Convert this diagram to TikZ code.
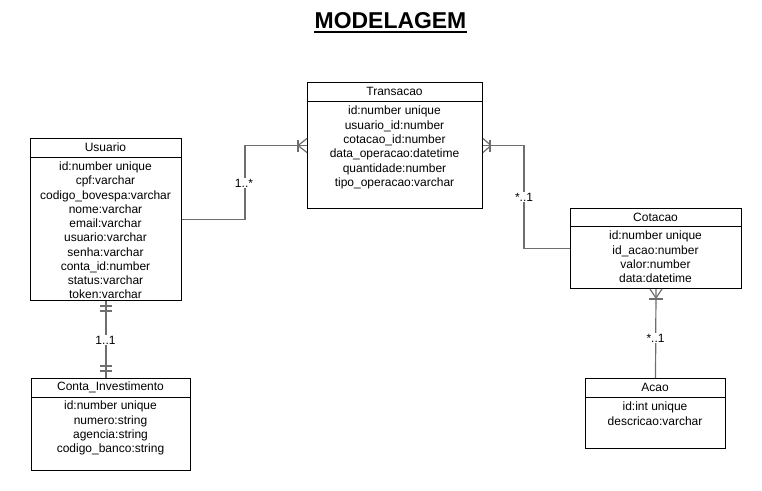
\documentclass[tikz,border=0pt]{standalone}
\usepackage{fontspec}
\setmainfont{Liberation Sans}
\definecolor{conncol}{RGB}{110,110,110}
\begin{document}
\begin{tikzpicture}[x=0.75pt,y=-0.75pt,
  ent/.style={draw=black,line width=0.75pt,anchor=north west,inner sep=0pt,rectangle},
  etitle/.style={inner sep=0pt,font=\fontsize{9pt}{10.7pt}\selectfont},
  attrs/.style={inner sep=0pt,anchor=north,align=center,font=\fontsize{9pt}{10.7pt}\selectfont},
  conn/.style={draw=conncol,line width=0.9pt},
  mult/.style={fill=white,inner sep=1pt,font=\fontsize{9pt}{10.7pt}\selectfont}
]
\useasboundingbox (0,0) rectangle (762,490);

% title
\node[inner sep=0pt,anchor=base,font=\fontsize{17.2pt}{18pt}\selectfont\bfseries] (title) at (390.5,28.5) {MODELAGEM};
\draw[line width=1.3pt] ([yshift=-2.6pt]title.base west) -- ([yshift=-2.6pt]title.base east);

% Usuario
\node[ent,minimum width=113.25pt,minimum height=121.5pt] (usuario) at (30,138) {};
\draw[line width=0.75pt] (30,157) -- (181,157);
\node[etitle] (usuarioT) at (105.5,147.5) {Usuario};
\node[attrs] (usuarioA) at (105.5,161.5) {id:number unique\\cpf:varchar\\codigo\_bovespa:varchar\\nome:varchar\\email:varchar\\usuario:varchar\\senha:varchar\\conta\_id:number\\status:varchar\\token:varchar};

% Transacao
\node[ent,minimum width=131.25pt,minimum height=94.5pt] (transacao) at (307,82) {};
\draw[line width=0.75pt] (307,101) -- (482,101);
\node[etitle] (transacaoT) at (394.5,91.5) {Transacao};
\node[attrs] (transacaoA) at (394.5,106) {id:number unique\\usuario\_id:number\\cotacao\_id:number\\data\_operacao:datetime\\quantidade:number\\tipo\_operacao:varchar};

% Cotacao
\node[ent,minimum width=128.25pt,minimum height=60pt] (cotacao) at (570,208) {};
\draw[line width=0.75pt] (570,226) -- (741,226);
\node[etitle] (cotacaoT) at (655.5,217) {Cotacao};
\node[attrs] (cotacaoA) at (655.5,231) {id:number unique\\id\_acao:number\\valor:number\\data:datetime};

% Conta_Investimento
\node[ent,minimum width=119.25pt,minimum height=69pt] (conta) at (31,378) {};
\draw[line width=0.75pt] (31,397) -- (190,397);
\node[etitle] (contaT) at (110.5,387.5) {Conta\_Investimento};
\node[attrs] (contaA) at (110.5,401) {id:number unique\\numero:string\\agencia:string\\codigo\_banco:string};

% Acao
\node[ent,minimum width=105pt,minimum height=52.5pt] (acao) at (585,378) {};
\draw[line width=0.75pt] (585,397) -- (725,397);
\node[etitle] (acaoT) at (655,387.5) {Acao};
\node[attrs] (acaoA) at (655,402) {id:int unique\\descricao:varchar};

% connectors
\draw[conn] (usuario.east) -- ++(63,0) |- (transacao.west);
\draw[conn] (cotacao.west) -- ++(-46,0) |- (transacao.east);
\draw[conn] (usuario.south) -- (usuario.south |- conta.north);
\draw[conn] (cotacao.south) -- (acao.north);

% markers: Transacao west (one-and-many)
\draw[conn] ([xshift=-6.75pt]transacao.west) ++(0,-6) -- ++(0,12);
\draw[conn] ([xshift=-6.75pt]transacao.west) -- ([yshift=5.25pt]transacao.west);
\draw[conn] ([xshift=-6.75pt]transacao.west) -- ([yshift=-5.25pt]transacao.west);
% Transacao east
\draw[conn] ([xshift=5.25pt]transacao.east) ++(0,-6) -- ++(0,12);
\draw[conn] ([xshift=6pt]transacao.east) -- ([yshift=5.25pt]transacao.east);
\draw[conn] ([xshift=6pt]transacao.east) -- ([yshift=-5.25pt]transacao.east);
% Usuario south: mandatory one
\draw[conn] ([yshift=-3.75pt]usuario.south) ++(-6,0) -- ++(12,0);
\draw[conn] ([yshift=-7.5pt]usuario.south) ++(-6,0) -- ++(12,0);
% Conta north
\draw[conn] ([yshift=9pt]conta.north -| usuario.south) ++(-6,0) -- ++(12,0);
\draw[conn] ([yshift=5.25pt]conta.north -| usuario.south) ++(-6,0) -- ++(12,0);
% Cotacao south: one-and-many
\draw[conn] ([yshift=-6.75pt]cotacao.south) -- ([xshift=-4.5pt]cotacao.south);
\draw[conn] ([yshift=-6.75pt]cotacao.south) -- ([xshift=4.5pt]cotacao.south);
\draw[conn] ([yshift=-7.5pt]cotacao.south) ++(-7,0) -- ++(14,0);

% multiplicities
\node[mult] (m1) at (244,183) {1..*};
\node[mult] (m2) at (524,197) {*..1};
\node[mult] (m3) at (105.5,340) {1..1};
\node[mult] (m4) at (655.5,338) {*..1};
\end{tikzpicture}
\end{document}
